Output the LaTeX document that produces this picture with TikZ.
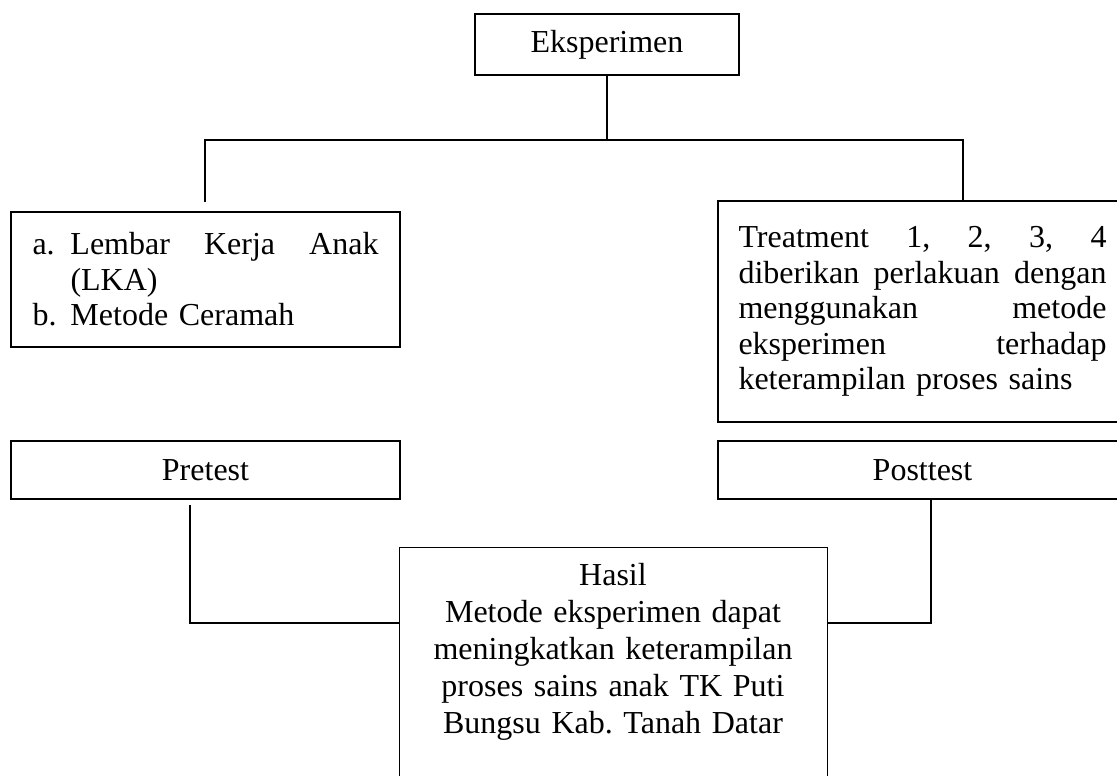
\documentclass[tikz,border=0pt]{standalone}
\usepackage{fontspec}
\setmainfont{Liberation Serif}
\frenchspacing
\begin{document}
\begin{tikzpicture}[x=1pt,y=-1pt,
  box/.style={draw, line width=1.3pt, inner sep=0pt, font=\fontsize{32}{35.5}\selectfont},
  txt/.style={inner sep=0pt, font=\fontsize{32}{37}\selectfont},
  conn/.style={line width=1.3pt}]
\useasboundingbox (0,0) rectangle (1117,776);
% boxes
\node[box, minimum width=264pt, minimum height=61pt] (eks) at (607,44.5) {Eksperimen};
\node[box, minimum width=389pt, minimum height=135pt, text width=346pt, align=left] (lka) at (205.5,279.5)
  {\makebox[38pt][l]{a.}Lembar\hfill Kerja\hfill Anak\\
   \hspace*{38pt}(LKA)\\
   \makebox[38pt][l]{b.}Metode Ceramah};
\node[box, minimum width=409pt, minimum height=221pt, text width=368pt, align=left] (treat) at (922.5,311.5)
  {Treatment\hfill 1,\hfill 2,\hfill 3,\hfill 4\\
   diberikan\hfill perlakuan\hfill dengan\\
   menggunakan\hfill metode\\
   eksperimen\hfill terhadap\\
   keterampilan proses sains};
\node[box, minimum width=389pt, minimum height=58pt] (pre) at (205.5,470) {Pretest};
\node[box, minimum width=409pt, minimum height=58pt] (post) at (922.5,470) {Posttest};
\node[box, minimum width=428pt, minimum height=260pt, anchor=north west] (hasil) at (399,547) {};
\node[txt, text width=420pt, align=center, anchor=north] (hasiltext) at (613,563)
  {Hasil\\
   Metode eksperimen dapat\\
   meningkatkan keterampilan\\
   proses sains anak TK Puti\\
   Bungsu Kab. Tanah Datar};
% connector points
\coordinate (busL) at (205,140);
\coordinate (busR) at (963,140);
\coordinate (lend) at (205,202);
\coordinate (preStart) at (190,505);
\coordinate (joinL) at (190,623);
\coordinate (joinR) at (931,623);
% connectors
\draw[conn] (eks.south) -- (eks.south |- busL);
\draw[conn] (lend) -- (busL) -- (busR) -- (busR |- treat.north);
\draw[conn] (preStart) -- (joinL) -- (joinL -| hasil.west);
\draw[conn] (joinR |- post.south) -- (joinR) -- (joinR -| hasil.east);
\end{tikzpicture}
\end{document}
